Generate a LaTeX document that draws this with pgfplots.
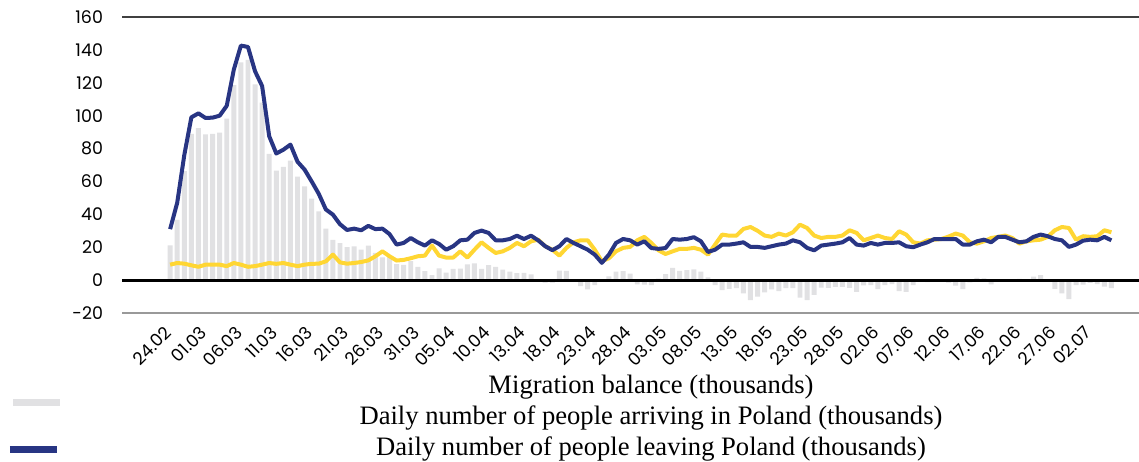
\documentclass[border=0pt]{standalone}
\usepackage{graphicx}
\usepackage{fontspec}
\setmainfont{Liberation Serif}
\newfontfamily\tickfont{Poppins}
\usepackage{pgfplots}
\usepackage{pgfplotstable}
\pgfplotsset{compat=1.18}

\definecolor{leaveblue}{RGB}{40,53,131}
\definecolor{arriveyellow}{RGB}{255,214,51}
\definecolor{balancegray}{RGB}{225,225,227}

\newcommand{\rl}[1]{\rotatebox{45}{#1}}

% i = day since 24.02, B = blue line, Y = yellow line, M = migration balance
\pgfplotstableread{
i B Y M
0 31 9.4 21.2
1 47 10.4 36.6
2 76 10 66.3
3 99 9 89
4 101.4 8.1 92.5
5 98.6 9.4 88.6
6 98.8 9.4 89
7 100 9.4 89.7
8 106 8.5 98.2
9 128 10.4 118.6
10 142.6 9.4 132.4
11 141.8 8.1 134
12 127 8.5 119
13 118 9.4 108
14 87.5 10.4 76.7
15 77 9.9 66.6
16 79.3 10.4 68.8
17 82.4 9.4 72.6
18 72 8.5 63
19 67.2 9.4 57
20 60 9.9 49.5
21 52.5 10 41.8
22 43 11.4 31.3
23 39.8 15.5 24.5
24 34 10.8 22.5
25 30.5 10 20
26 31.3 10.4 20.5
27 30.3 11 18.5
28 33 12 21
29 31 14.5 16.5
30 31.3 17.5 13.8
31 28 14.5 14
32 21.6 11.9 9.7
33 22.6 12.3 9.3
34 25.6 13.3 11.5
35 23 14.5 8.1
36 21 14.9 5.5
37 24.2 21 3
38 22 14.9 7.2
39 18.5 13.7 4.6
40 20.6 13.7 6.8
41 24.2 17.5 7
42 24.6 13.7 9.5
43 28.7 18.5 10.2
44 30.1 23 6.8
45 28.7 19.6 9.1
46 24.2 16.5 8
47 24.2 17.5 6.4
48 25 19.6 5.2
49 27 22.6 4.2
50 25 20.6 4.4
51 27 23.6 3.5
52 24.2 24.6 -0.4
53 20.6 20.6 -1.5
54 18.2 18.5 -1.5
55 20.6 14.9 5.7
56 25 19.6 5.6
57 22.6 23 -0.4
58 20.6 24.2 -3.6
59 18.5 24.2 -5.7
60 15.5 18.5 -3
61 10.5 11.5 -1
62 15.5 13.3 2.2
63 22.6 17.5 5.1
64 25 19.6 5.4
65 24.2 20.2 4
66 21.6 24.2 -2.6
67 23.6 26.3 -2.7
68 19.5 22.6 -3.1
69 19 18.1 0.9
70 19.5 15.9 3.6
71 25 17.5 7.5
72 24.6 19 5.6
73 25 19 6
74 26.1 19.6 6.5
75 23.6 18.5 5.1
76 17.1 15.5 1.6
77 18.5 21.6 -3.1
78 21.6 27.7 -6.1
79 21.6 27 -5.4
80 22.2 27 -4.8
81 23 31.1 -8.1
82 20.2 32.3 -12.1
83 20.2 30 -10
84 19.6 27.1 -7.5
85 20.6 26.3 -5.7
86 21.6 28.3 -6.7
87 22.2 27.1 -4.9
88 24.2 29.1 -4.9
89 23 33.7 -10.7
90 19.6 31.7 -12.1
91 18.1 27.1 -9
92 21 25.6 -4.6
93 21.6 26.3 -4.7
94 22.2 26.3 -4.1
95 23 27.1 -4.1
96 25.6 30.3 -4.7
97 21.6 28.7 -7.1
98 21 24.2 -3.2
99 22.6 25.6 -3
100 21.6 27.1 -5.5
101 22.6 25.6 -3
102 22.6 25 -2.4
103 23 29.7 -6.7
104 20.6 27.7 -7.1
105 20 23 -3
106 21.6 22.2 -0.6
107 23 24.2 -1.2
108 25 24.6 0.4
109 25 25 0
110 25 26.5 -1.5
111 25 28.3 -3.3
112 21.6 27.1 -5.5
113 21.6 23 -1.4
114 23.6 22.2 1.4
115 24.6 23.6 1
116 23 25.6 -2.6
117 26.3 26.3 0
118 26.3 27.1 -0.8
119 24.6 25.6 -1
120 23 22.2 0.8
121 23.6 23.6 0
122 26.3 24.2 2.1
123 27.7 24.6 3.1
124 26.7 26.3 0.4
125 25 30.3 -5.3
126 24.2 32.3 -8.1
127 20.2 31.7 -11.5
128 21.6 24.6 -3
129 24 26.7 -2.7
130 24.6 26.3 -1.7
131 24.2 26.7 -2.5
132 26.3 30.3 -4
133 24.2 29.1 -4.9
}\flows

\begin{document}
\begin{tikzpicture}
\path[use as bounding box] (-61pt,-74pt) rectangle (508.5pt,156.5pt);
\begin{axis}[
  scale only axis,
  width=508.5pt, height=148pt,
  xmin=-6.8, xmax=136.9,
  ymin=-20, ymax=160,
  axis line style={draw=none},
  major tick length=0pt,
  ytick={-20,0,...,160},
  xtick={0,5,...,130},
  xticklabels={\rl{24.02},\rl{01.03},\rl{06.03},\rl{11.03},\rl{16.03},\rl{21.03},\rl{26.03},\rl{31.03},\rl{05.04},\rl{10.04},\rl{13.04},\rl{18.04},\rl{23.04},\rl{28.04},\rl{03.05},\rl{08.05},\rl{13.05},\rl{18.05},\rl{23.05},\rl{28.05},\rl{02.06},\rl{07.06},\rl{12.06},\rl{17.06},\rl{22.06},\rl{27.06},\rl{02.07}},
  tick label style={font=\tickfont\fontsize{8.7}{10}\selectfont},
  yticklabel style={xshift=-6pt},
  xticklabel style={anchor=north east, inner sep=0pt, xshift=1.5pt, yshift=-5.8pt},
  /pgf/number format/assume math mode=true,
  clip=false,
]
  % saldo migracji
  \addplot[ybar, bar width=0.7, fill=balancegray, draw=none] table[x=i, y=M] {\flows};

  \draw[black, line width=1.4pt] (axis cs:-6.8,0) -- (axis cs:136.9,0);
  \draw[black!75, line width=0.6pt] (axis cs:-6.8,160) -- (axis cs:136.9,160);
  \draw[black!40, line width=0.8pt] (axis cs:-6.8,-20) -- (axis cs:136.9,-20);

  \addplot[arriveyellow, line width=2pt, line join=round, mark=none] table[x=i, y=Y] {\flows};
  \addplot[leaveblue, line width=2pt, line join=round, mark=none] table[x=i, y=B] {\flows};
\end{axis}

% legenda
\draw[balancegray, line width=3.5pt] (-54.5pt,-44.5pt) -- (-31pt,-44.5pt);
\draw[leaveblue, line width=3.5pt] (-56pt,-68.2pt) -- (-32.5pt,-68.2pt);
\begin{scope}[every node/.style={font=\fontsize{13.3}{15}\selectfont, anchor=base, inner sep=0pt}]
  \node at (264.5pt,-40pt) {Migration balance (thousands)};
  \node at (264.5pt,-55.5pt) {Daily number of people arriving in Poland (thousands)};
  \node at (264.5pt,-71pt) {Daily number of people leaving Poland (thousands)};
\end{scope}
\end{tikzpicture}
\end{document}
